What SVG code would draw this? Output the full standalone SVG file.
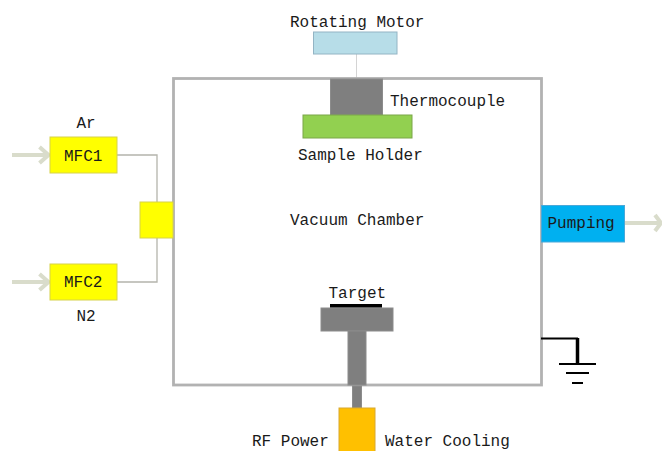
<svg xmlns="http://www.w3.org/2000/svg" width="662" height="451" viewBox="0 0 662 451">
<style>
text{font-family:"Liberation Mono",monospace;font-size:16px;fill:#1a1a1a}
.y{fill:#ffff00;stroke:#d6d24a;stroke-width:1}
.g{fill:#7f7f7f;stroke:#8c8c8c;stroke-width:1}
.c{fill:none;stroke:#b4b4ac;stroke-width:1.300}
.a{fill:none;stroke:#d9dccb;stroke-width:4}
.k{fill:none;stroke:#000}
</style>
<rect width="662" height="451" fill="#fff"/>
<g id="connectors">
<path class="c" d="M117 155H157V202M117 282H157V238"/>
<path d="M356.500 54V78" fill="none" stroke="#d4d4d4" stroke-width="1"/>
<path class="a" d="M12 155H48M39.500 147L48.500 155L39.500 163"/>
<path class="a" d="M12 282H48M39.500 274L48.500 282L39.500 290"/>
<path class="a" d="M625 223H659M655 215L661 223L655 231"/>
</g>
<g id="chamber"><rect x="173.500" y="78.500" width="368" height="306.500" fill="#fff" stroke="#b2b2b2" stroke-width="2.800"/>
<text x="290" y="225">Vacuum Chamber</text></g>
<g id="motor"><rect x="313.500" y="32" width="83.500" height="22" fill="#b7dde8" stroke="#93b4c4" stroke-width="1"/>
<text x="290" y="26.500">Rotating Motor</text></g>
<g id="thermocouple"><rect class="g" x="330.500" y="79" width="52" height="36"/>
<text x="390" y="106">Thermocouple</text></g>
<g id="sample-holder"><rect x="303" y="115" width="109" height="23" fill="#92d050" stroke="#7aa648" stroke-width="1"/>
<text x="298" y="160">Sample Holder</text></g>
<g id="mfc1"><rect class="y" x="50" y="137" width="67" height="36"/>
<text x="64" y="160.500">MFC1</text>
<text x="76.500" y="128">Ar</text></g>
<g id="mfc2"><rect class="y" x="50" y="264" width="67" height="36"/>
<text x="64" y="287">MFC2</text>
<text x="76.500" y="321">N2</text></g>
<g id="mixer"><rect class="y" x="140" y="202" width="33" height="36"/></g>
<g id="pumping"><rect x="541.500" y="205.500" width="83" height="36.500" fill="#00b0f0" stroke="#4aa8d8" stroke-width="1"/>
<text x="547.500" y="228">Pumping</text></g>
<g id="target"><rect class="g" x="321" y="308" width="72" height="23"/>
<rect x="330" y="304" width="52" height="3.500" fill="#000"/>
<rect class="g" x="348" y="331" width="18" height="54"/>
<rect class="g" x="352.500" y="386" width="9" height="22"/>
<text x="328.500" y="298">Target</text></g>
<g id="rf-power"><rect x="339" y="408" width="36" height="44" fill="#ffc000" stroke="#d8a830" stroke-width="1"/>
<text x="252" y="446">RF Power</text>
<text x="385" y="446">Water Cooling</text></g>
<g id="ground">
<path class="k" stroke-width="2" d="M541 338.500H578"/>
<path class="k" stroke-width="3.500" d="M577.500 338V364"/>
<path class="k" stroke-width="2" d="M559 364H596M566 373H589"/>
<path class="k" stroke-width="2" d="M572 383H583"/>
</g>
</svg>
